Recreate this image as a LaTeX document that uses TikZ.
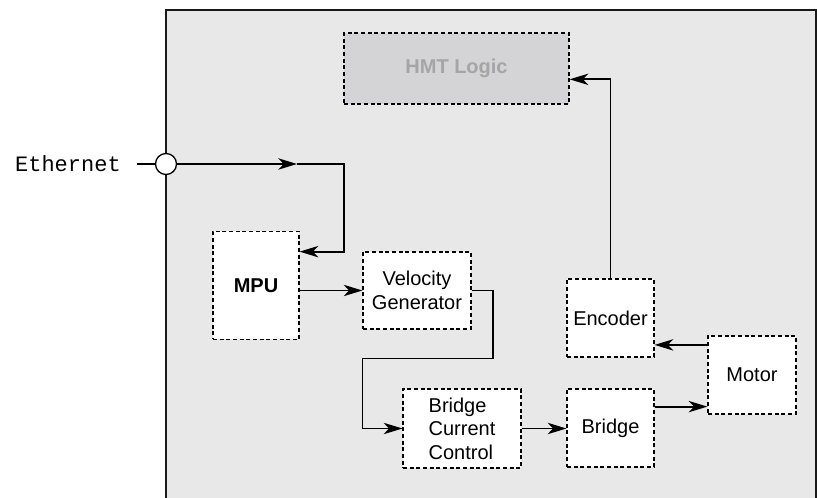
\documentclass[tikz,border=0pt]{standalone}
\usepackage{fontspec}
\setmainfont{Liberation Sans}
\setmonofont{Liberation Mono}
\usepackage{tikz}
\usetikzlibrary{arrows.meta,calc}
\definecolor{PanelC}{RGB}{232,232,232}
\definecolor{LogicC}{RGB}{212,212,214}
\definecolor{LogicT}{RGB}{165,165,165}
\tikzset{
  blk/.style={draw=black,dash pattern=on 3pt off 2pt,line width=0.9pt,fill=white,
              inner sep=0pt,font=\fontsize{15}{17.6}\selectfont},
  frame/.style={line width=1.5pt,black!90},
  port/.style={circle,draw=black,line width=1pt,fill=white,minimum size=15.75pt,inner sep=0pt},
  flow/.style={-{Stealth[length=14pt,width=8.5pt,inset=4pt]},line width=1.35pt},
  wire/.style={line width=1.35pt},
}

\begin{document}
\begin{tikzpicture}[x=0.75pt,y=-0.75pt]
  \useasboundingbox (0,0) rectangle (817,498);
  \fill[PanelC] (166,10) rectangle (816,498);
  \draw[frame] (166,498) -- (166,10) -- (816,10) -- (816,498);

  \node[blk,fill=LogicC,text=LogicT,font=\fontsize{15}{17.6}\selectfont\bfseries,
        minimum width=168.75pt,minimum height=53.25pt] (hmt) at (456.5,68.5) {HMT Logic};
  \node[blk,font=\fontsize{15}{17.6}\selectfont\bfseries,
        minimum width=64.5pt,minimum height=81pt] (mpu) at (256,285.5) {MPU};
  \node[blk,align=center,minimum width=81pt,minimum height=57.75pt] (vg) at (417,290.5)
  {Velocity\\Generator};
  \node[blk,align=left,minimum width=88.5pt,minimum height=59.25pt] (bcc) at (462,428.5)
  {Bridge\\Current\\Control};
  \node[blk,minimum width=65.25pt,minimum height=58.5pt] (br) at (610.5,428) {Bridge};
  \node[blk,minimum width=66pt,minimum height=58.5pt] (mot) at (752,375) {Motor};
  \node[blk,minimum width=65.25pt,minimum height=58.5pt] (enc) at (610.5,318) {Encoder};

  \node[port] (eth) at (166,164) {};
  \node[anchor=east,inner sep=0pt,font=\fontsize{16.5}{18}\ttfamily] (ethtxt) at (121,164) {Ethernet};
  \coordinate (ethin) at (137,164);
  \coordinate (ethmid) at (297,164);
  \coordinate (ethturn) at (344,164);

  \draw[wire] (ethin) -- (eth.west);
  \draw[flow] (eth.east) -- (ethmid);
  \draw[flow] (ethmid) -- (ethturn) |- ($(mpu.north east)!0.19!(mpu.south east)$);
  \draw[flow] (mpu.east |- vg.west) -- (vg.west);
  \draw[flow] (vg.east) -- ++(21,0) |- ($(bcc.west)+(-40,-70)$) |- (bcc.west);
  \draw[flow] (bcc.east) -- (bcc.east -| br.west);
  \coordinate (b2m) at ($(br.north east)!0.23!(br.south east)$);
  \draw[flow] (b2m) -- (b2m -| mot.west);
  \coordinate (m2e) at ($(mot.north west)!0.12!(mot.south west)$);
  \draw[flow] (m2e) -- (m2e -| enc.east);
  \draw[flow] (enc.north) |- ($(hmt.north east)!0.65!(hmt.south east)$);
\end{tikzpicture}
\end{document}
